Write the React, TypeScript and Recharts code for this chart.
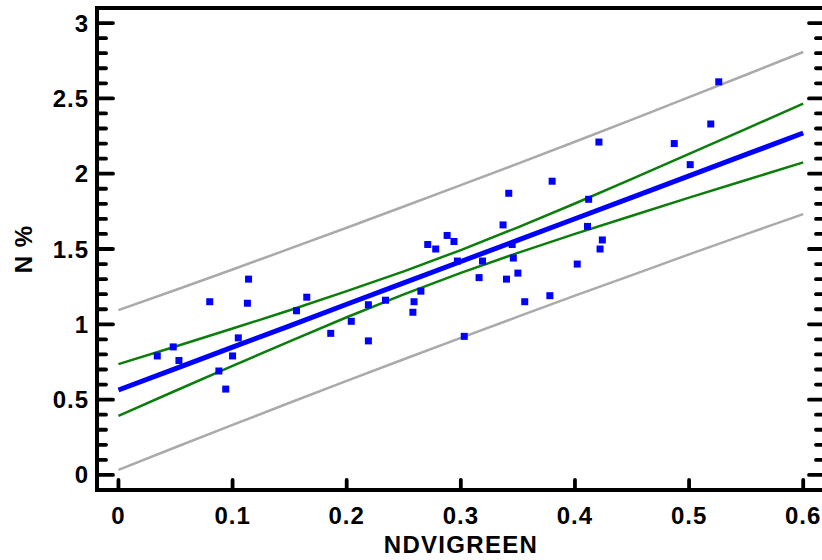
import { ComposedChart, XAxis, YAxis, Line, Scatter } from 'recharts';

// scatter samples
const ndviGreen = [
  0.034, 0.048, 0.053, 0.080, 0.114, 0.113, 0.088, 0.105, 0.100, 0.094,
  0.165, 0.156, 0.186, 0.204, 0.219, 0.219, 0.234, 0.259, 0.258, 0.265,
  0.271, 0.278, 0.288, 0.294, 0.297, 0.303, 0.316, 0.319, 0.337, 0.345,
  0.346, 0.340, 0.350, 0.356, 0.378, 0.380, 0.412, 0.411, 0.424, 0.422,
  0.402, 0.421, 0.487, 0.501, 0.519, 0.526, 0.342,
];
const nPercent = [
  0.79, 0.85, 0.76, 1.15, 1.30, 1.14, 0.69, 0.91, 0.79, 0.57,
  1.18, 1.09, 0.94, 1.02, 1.13, 0.89, 1.16, 1.15, 1.08, 1.22,
  1.53, 1.50, 1.59, 1.55, 1.42, 0.92, 1.31, 1.42, 1.66, 1.53,
  1.44, 1.30, 1.34, 1.15, 1.19, 1.95, 1.83, 1.65, 1.56, 1.50,
  1.40, 2.21, 2.20, 2.06, 2.33, 2.61, 1.87,
];

// fitted line with confidence and prediction limits
const lineX = [0, 0.05, 0.1, 0.15, 0.2, 0.25, 0.3, 0.35, 0.4, 0.45, 0.5, 0.55, 0.6];
const fitN = [0.564, 0.706, 0.848, 0.99, 1.133, 1.275, 1.417, 1.559, 1.701, 1.843, 1.986, 2.128, 2.27];
const confHigh = [0.736, 0.853, 0.972, 1.093, 1.22, 1.351, 1.493, 1.644, 1.802, 1.965, 2.131, 2.298, 2.465];
const confLow = [0.392, 0.559, 0.724, 0.887, 1.047, 1.199, 1.341, 1.474, 1.6, 1.721, 1.841, 1.958, 2.075];
const predHigh = [1.094, 1.228, 1.364, 1.502, 1.641, 1.782, 1.924, 2.067, 2.212, 2.359, 2.508, 2.657, 2.808];
const predLow = [0.034, 0.184, 0.332, 0.479, 0.625, 0.768, 0.91, 1.051, 1.19, 1.327, 1.464, 1.599, 1.732];

const xTicks = [0, 0.1, 0.2, 0.3, 0.4, 0.5, 0.6];
const yTicks = [
  0, 0.1, 0.2, 0.3, 0.4, 0.5, 0.6, 0.7, 0.8, 0.9, 1, 1.1, 1.2, 1.3, 1.4, 1.5,
  1.6, 1.7, 1.8, 1.9, 2, 2.1, 2.2, 2.3, 2.4, 2.5, 2.6, 2.7, 2.8, 2.9, 3,
];

const points = ndviGreen.map((x, i) => ({ x, n: nPercent[i] }));
const bands = lineX.map((x, i) => ({
  x,
  fit: fitN[i],
  confHigh: confHigh[i],
  confLow: confLow[i],
  predHigh: predHigh[i],
  predLow: predLow[i],
}));

const X_DOMAIN: [number, number] = [-0.0188, 0.6191];
const Y_DOMAIN: [number, number] = [-0.1, 3.1];

const labelFont = {
  fontFamily: '"Liberation Sans", Arial, sans-serif',
  fontWeight: 700,
  fontSize: 24,
  letterSpacing: 1,
  fill: '#000',
};

const isMajor = (v: number) => Math.abs(v * 2 - Math.round(v * 2)) < 1e-6;

function LeftTick(props: any) {
  const { x, y, payload } = props;
  const major = isMajor(payload.value);
  return (
    <g>
      <line x1={x} x2={x + (major ? 16 : 9)} y1={y} y2={y} stroke="#000" strokeWidth={3.8} strokeLinecap="round" />
      {major && (
        <text x={x - 8} y={y + 8.5} textAnchor="end" style={labelFont}>
          {String(payload.value)}
        </text>
      )}
    </g>
  );
}

function RightTick(props: any) {
  const { x, y, payload } = props;
  const major = isMajor(payload.value);
  return <line x1={x} x2={x - (major ? 16 : 9)} y1={y} y2={y} stroke="#000" strokeWidth={3.8} strokeLinecap="round" />;
}

function BottomTick(props: any) {
  const { x, y, payload } = props;
  return (
    <g>
      <line x1={x} x2={x} y1={y} y2={y - 10} stroke="#000" strokeWidth={3.8} strokeLinecap="round" />
      <text x={x} y={y + 33.5} textAnchor="middle" style={labelFont}>
        {String(payload.value)}
      </text>
    </g>
  );
}

function TopTick(props: any) {
  const { x, y } = props;
  return <line x1={x} x2={x} y1={y} y2={y + 11} stroke="#000" strokeWidth={3.8} strokeLinecap="round" />;
}

const Square = (p: any) => <rect x={p.cx - 3.5} y={p.cy - 3.5} width={7} height={7} fill="#0000ff" />;

const frame = { stroke: '#000', strokeWidth: 4, strokeLinecap: 'square' as const };

export default function App() {
  return (
    <div style={{ position: 'fixed', left: 0, top: 0, width: 822, height: 560, overflow: 'hidden', background: '#fff' }}>
      <ComposedChart width={840} height={560} margin={{ top: 0, right: 0, bottom: 0, left: 0 }}>
        <XAxis
          xAxisId="b"
          type="number"
          dataKey="x"
          domain={X_DOMAIN}
          allowDataOverflow
          ticks={xTicks}
          interval={0}
          height={70}
          axisLine={frame}
          tickLine={false}
          tickSize={0}
          tickMargin={0}
          tick={BottomTick}
          label={{
            content: (p: any) => (
              <text
                x={p.viewBox.x + p.viewBox.width / 2}
                y={p.viewBox.y + 63}
                textAnchor="middle"
                style={{ ...labelFont, letterSpacing: 1.3 }}
              >
                NDVIGREEN
              </text>
            ),
          }}
        />
        <XAxis
          xAxisId="t"
          type="number"
          orientation="top"
          domain={X_DOMAIN}
          allowDataOverflow
          ticks={xTicks}
          interval={0}
          height={8}
          axisLine={frame}
          tickLine={false}
          tickSize={0}
          tickMargin={0}
          tick={TopTick}
        />
        <YAxis
          yAxisId="l"
          type="number"
          domain={Y_DOMAIN}
          allowDataOverflow
          ticks={yTicks}
          interval={0}
          width={97}
          axisLine={frame}
          tickLine={false}
          tickSize={0}
          tickMargin={0}
          tick={LeftTick}
          label={{
            content: (p: any) => (
              <text
                x={31.5}
                y={p.viewBox.y + p.viewBox.height / 2}
                transform={`rotate(-90, 31.5, ${p.viewBox.y + p.viewBox.height / 2})`}
                textAnchor="middle"
                style={labelFont}
              >
                N %
              </text>
            ),
          }}
        />
        <YAxis
          yAxisId="r"
          type="number"
          orientation="right"
          domain={Y_DOMAIN}
          allowDataOverflow
          ticks={yTicks}
          interval={0}
          width={15}
          axisLine={frame}
          tickLine={false}
          tickSize={0}
          tickMargin={0}
          tick={RightTick}
        />
        <Line xAxisId="b" yAxisId="l" data={bands} dataKey="predHigh" type="linear" stroke="#aaaaaa" strokeWidth={2.5} dot={false} isAnimationActive={false} />
        <Line xAxisId="b" yAxisId="l" data={bands} dataKey="predLow" type="linear" stroke="#aaaaaa" strokeWidth={2.5} dot={false} isAnimationActive={false} />
        <Line xAxisId="b" yAxisId="l" data={bands} dataKey="confHigh" type="linear" stroke="#0a7d0a" strokeWidth={2.5} dot={false} isAnimationActive={false} />
        <Line xAxisId="b" yAxisId="l" data={bands} dataKey="confLow" type="linear" stroke="#0a7d0a" strokeWidth={2.5} dot={false} isAnimationActive={false} />
        <Line xAxisId="b" yAxisId="l" data={bands} dataKey="fit" type="linear" stroke="#0000ff" strokeWidth={5} dot={false} isAnimationActive={false} />
        <Scatter xAxisId="b" yAxisId="l" data={points} dataKey="n" shape={Square} isAnimationActive={false} />
      </ComposedChart>
    </div>
  );
}
